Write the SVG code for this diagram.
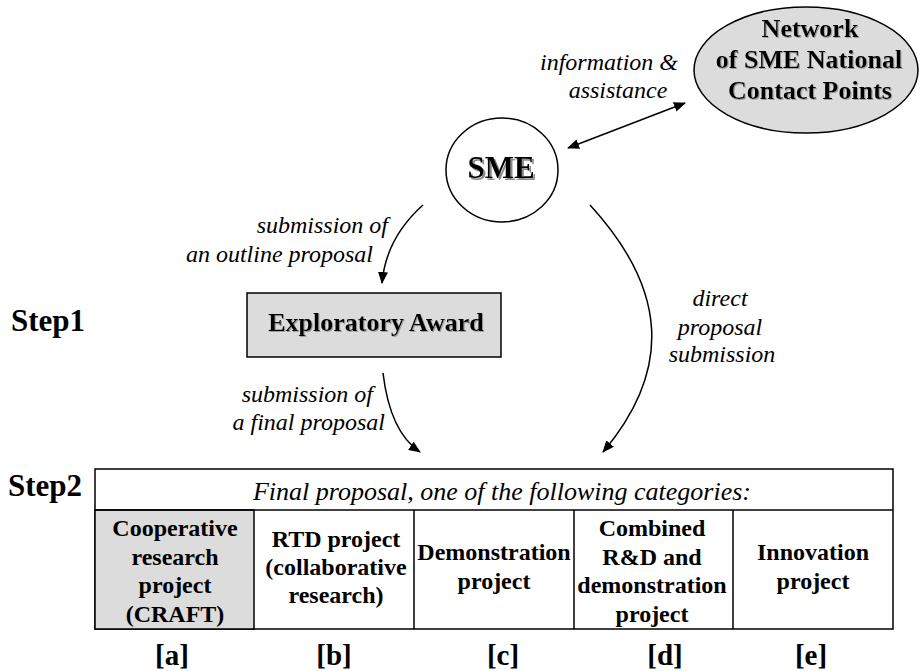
<svg xmlns="http://www.w3.org/2000/svg" width="920" height="671" viewBox="0 0 920 671">
<defs>
<marker id="ah" viewBox="0 0 12 10" refX="11" refY="5" markerWidth="12" markerHeight="10" markerUnits="userSpaceOnUse" orient="auto-start-reverse">
<path d="M0,0 L12,5 L0,10 Z" fill="#000"/>
</marker>
<filter id="shadow" x="-10%" y="-20%" width="130%" height="150%">
<feOffset in="SourceAlpha" dx="2" dy="2" result="off"/>
<feFlood flood-color="#8c8c8c"/>
<feComposite in2="off" operator="in" result="sh"/>
<feMerge><feMergeNode in="sh"/><feMergeNode in="SourceGraphic"/></feMerge>
</filter>
<filter id="shadow2" x="-10%" y="-20%" width="130%" height="150%">
<feOffset in="SourceAlpha" dx="1.2" dy="1.2" result="off"/>
<feFlood flood-color="#a0a0a0"/>
<feComposite in2="off" operator="in" result="sh"/>
<feMerge><feMergeNode in="sh"/><feMergeNode in="SourceGraphic"/></feMerge>
</filter>
</defs>
<rect width="920" height="671" fill="#fff"/>

<g font-family="'Liberation Serif', 'Times New Roman', serif" fill="#000">

<g id="network">
<ellipse cx="806" cy="70" rx="112" ry="63" fill="#dcdcdc" stroke="#000" stroke-width="1.5"/>
<g font-weight="bold" font-size="26" text-anchor="middle" filter="url(#shadow2)">
<text x="810" y="37">Network</text>
<text x="809" y="68">of SME National</text>
<text x="810" y="99">Contact Points</text>
</g>
</g>

<g id="sme">
<ellipse cx="502" cy="170" rx="56" ry="52" fill="#fff" stroke="#000" stroke-width="1.5"/>
<text font-weight="bold" font-size="31" text-anchor="middle" x="501" y="178" filter="url(#shadow)">SME</text>
</g>

<g id="exploratory">
<rect x="247" y="293" width="254" height="64" fill="#dcdcdc" stroke="#000" stroke-width="1.5"/>
<text font-weight="bold" font-size="26" text-anchor="middle" x="376" y="331" filter="url(#shadow2)">Exploratory Award</text>
</g>

<g id="step-labels" font-weight="bold" font-size="31">
<text x="11" y="331">Step1</text>
<text x="8" y="496">Step2</text>
</g>

<g id="table">
<rect x="95" y="469" width="798" height="160" fill="#fff" stroke="#000" stroke-width="1.5"/>
<rect x="95" y="510" width="159" height="119" fill="#dcdcdc" stroke="#000" stroke-width="1.5"/>
<g stroke="#000" stroke-width="1.5">
<line x1="95" y1="510" x2="893" y2="510"/>
<line x1="414" y1="510" x2="414" y2="629"/>
<line x1="574" y1="510" x2="574" y2="629"/>
<line x1="733" y1="510" x2="733" y2="629"/>
</g>
<text font-style="italic" font-size="26" text-anchor="middle" x="502" y="500">Final proposal, one of the following categories:</text>
<g font-weight="bold" font-size="24" text-anchor="middle">
<text x="175" y="536">Cooperative</text>
<text x="175" y="565">research</text>
<text x="175" y="593">project</text>
<text x="175" y="622">(CRAFT)</text>
<text x="336" y="547">RTD project</text>
<text x="336" y="575">(collaborative</text>
<text x="336" y="603">research)</text>
<text x="494" y="560">Demonstration</text>
<text x="494" y="589">project</text>
<text x="652" y="536">Combined</text>
<text x="652" y="565">R&amp;D and</text>
<text x="652" y="593">demonstration</text>
<text x="652" y="622">project</text>
<text x="813" y="560">Innovation</text>
<text x="813" y="589">project</text>
</g>
<g font-weight="bold" font-size="29" text-anchor="middle">
<text x="172" y="665">[a]</text>
<text x="334" y="665">[b]</text>
<text x="503" y="665">[c]</text>
<text x="665" y="665">[d]</text>
<text x="811" y="665">[e]</text>
</g>
</g>

<g id="connectors" fill="none" stroke="#000" stroke-width="1.5">
<line x1="568" y1="148" x2="685" y2="103" marker-start="url(#ah)" marker-end="url(#ah)"/>
<path d="M423,205 Q386,238 382,283" marker-end="url(#ah)"/>
<path d="M383,373 Q390,432 420,452" marker-end="url(#ah)"/>
<path d="M590,205 C668,290 672,370 603,452" marker-end="url(#ah)"/>
</g>

<g id="connector-labels" font-style="italic" font-size="24">
<text x="609" y="70" text-anchor="middle">information &amp;</text>
<text x="618" y="98" text-anchor="middle">assistance</text>
<text x="388" y="233" text-anchor="end">submission of</text>
<text x="373" y="262" text-anchor="end">an outline proposal</text>
<text x="373" y="402" text-anchor="end">submission of</text>
<text x="385" y="430" text-anchor="end">a final proposal</text>
<text x="720" y="306" text-anchor="middle">direct</text>
<text x="720" y="335" text-anchor="middle">proposal</text>
<text x="722" y="362" text-anchor="middle">submission</text>
</g>

</g>
</svg>
